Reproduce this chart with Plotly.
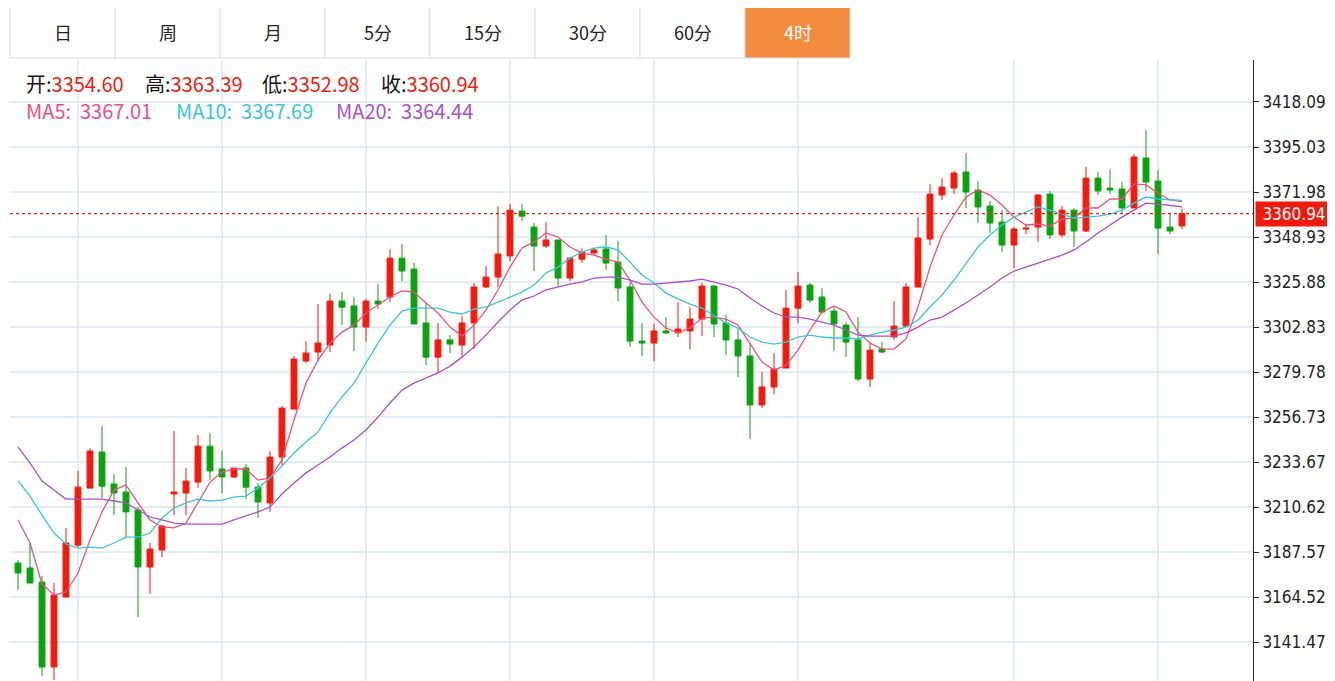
import plotly.graph_objects as go

opens = [3181.9,3179.4,3172.2,3128.7,3164.5,3191.1,3220.3,3238.8,3222.4,3218.3,
 3209.1,3179.9,3188.6,3217.3,3217.8,3223.4,3241.8,3230.1,3226.0,3230.6,
 3220.8,3212.7,3236.2,3260.8,3285.4,3290.0,3293.6,3316.1,3313.6,3302.8,
 3316.1,3318.2,3338.1,3332.5,3304.9,3287.4,3296.2,3293.6,3304.9,3323.3,
 3328.4,3339.2,3362.2,3354.0,3344.3,3347.4,3327.9,3337.6,3340.7,3342.8,
 3336.1,3323.3,3295.6,3294.6,3300.8,3299.8,3300.8,3306.9,3323.8,3304.9,
 3296.2,3288.0,3262.9,3272.1,3281.8,3312.5,3324.3,3318.2,3311.0,3303.8,
 3296.2,3276.2,3291.5,3297.7,3303.3,3323.3,3347.9,3370.4,3374.0,3382.2,
 3373.0,3364.8,3356.6,3344.8,3353.0,3354.0,3370.9,3350.0,3362.7,3352.0,
 3379.1,3374.0,3373.5,3363.8,3389.4,3377.6,3354.0,3354.60]
highs = [3183.5,3192.2,3175.3,3171.7,3199.9,3229.1,3240.8,3252.1,3227.5,3231.1,
 3210.6,3192.2,3201.4,3249.5,3230.6,3247.5,3248.5,3239.3,3230.6,3232.6,
 3222.9,3239.3,3262.3,3287.9,3295.6,3314.6,3319.8,3320.7,3318.2,3317.2,
 3324.9,3342.8,3345.4,3335.6,3315.1,3304.9,3298.7,3308.4,3325.4,3334.1,
 3364.7,3365.8,3365.8,3356.1,3356.6,3347.4,3338.6,3343.2,3343.2,3349.9,
 3346.9,3325.9,3304.9,3304.4,3307.9,3315.6,3313.0,3325.4,3324.3,3309.0,
 3302.3,3294.6,3279.7,3289.5,3321.8,3331.0,3325.4,3322.8,3313.0,3305.4,
 3307.9,3295.1,3295.1,3316.1,3325.4,3359.1,3376.0,3379.1,3382.7,3392.0,
 3377.6,3367.4,3362.7,3354.0,3355.6,3371.0,3372.5,3364.8,3363.7,3384.8,
 3382.2,3383.7,3377.1,3391.4,3403.9,3383.2,3361.2,3363.39]
lows = [3168.1,3171.7,3124.0,3122.0,3164.5,3190.1,3220.3,3215.2,3206.5,3195.2,
 3154.3,3166.1,3185.0,3206.5,3206.5,3220.3,3224.4,3217.8,3225.5,3214.7,
 3205.0,3208.1,3232.1,3260.8,3284.4,3285.4,3290.0,3303.8,3290.5,3295.1,
 3312.0,3315.6,3326.4,3304.4,3283.3,3279.3,3289.5,3287.4,3291.5,3322.8,
 3323.3,3336.6,3357.1,3331.5,3343.3,3323.8,3326.4,3335.6,3340.2,3332.0,
 3316.1,3292.6,3287.9,3285.4,3299.3,3297.7,3291.5,3298.2,3297.7,3288.5,
 3277.2,3245.4,3261.3,3268.5,3281.8,3304.9,3315.1,3309.5,3290.5,3287.4,
 3275.1,3272.1,3289.5,3296.2,3302.8,3323.3,3344.8,3367.9,3370.9,3363.8,
 3356.1,3351.0,3341.2,3333.0,3350.5,3346.4,3347.9,3348.9,3343.8,3351.5,
 3370.4,3370.9,3361.2,3363.8,3372.5,3340.2,3350.5,3352.98]
closes = [3176.8,3171.7,3128.7,3165.5,3192.2,3220.8,3239.3,3221.3,3217.8,3208.1,
 3179.9,3189.1,3200.9,3218.3,3223.9,3241.8,3229.1,3226.0,3230.6,3220.8,
 3213.2,3236.2,3261.3,3286.4,3289.5,3294.6,3316.1,3313.0,3302.8,3316.1,
 3314.6,3338.1,3331.5,3304.4,3287.4,3296.2,3294.1,3304.9,3323.3,3328.4,
 3340.2,3362.7,3359.6,3344.3,3347.4,3327.9,3338.1,3341.2,3342.3,3335.6,
 3322.8,3295.6,3294.6,3300.8,3299.8,3301.8,3306.9,3323.8,3304.4,3296.2,
 3288.0,3262.9,3272.1,3281.3,3312.5,3323.8,3316.6,3310.5,3304.4,3295.1,
 3276.2,3291.0,3290.0,3303.3,3323.3,3348.4,3370.9,3374.5,3381.7,3372.0,
 3364.3,3356.1,3344.8,3353.0,3353.5,3370.4,3350.0,3362.7,3352.0,3379.1,
 3372.5,3373.0,3363.8,3389.9,3377.1,3353.5,3352.0,3360.94]

ma5 = [3204.0,3192.2,3171.2,3165.5,3167.1,3176.8,3193.7,3208.1,3219.3,3221.9,
 3212.7,3204.0,3200.4,3199.9,3202.4,3213.2,3223.4,3228.5,3230.1,3230.1,
 3224.4,3225.5,3234.7,3255.2,3274.1,3285.9,3294.6,3300.2,3303.8,3310.0,
 3314.1,3318.2,3321.3,3320.7,3315.1,3310.0,3302.8,3298.2,3303.8,3311.5,
 3321.8,3333.5,3343.3,3346.4,3351.0,3348.9,3343.8,3340.7,3339.7,3337.6,
 3336.1,3326.9,3315.6,3307.9,3302.3,3299.8,3302.3,3307.4,3307.9,3306.9,
 3303.8,3294.6,3284.9,3280.8,3283.3,3291.0,3301.3,3310.5,3313.6,3310.5,
 3300.2,3294.6,3291.5,3291.5,3296.7,3313.1,3333.5,3350.0,3360.2,3369.4,
 3373.0,3370.4,3365.3,3359.1,3355.1,3355.6,3354.5,3358.1,3358.6,3363.8,
 3363.8,3368.4,3368.4,3376.1,3375.6,3371.5,3367.9,3367.01]
ma10 = [3224.0,3216.2,3206.5,3197.3,3191.7,3189.6,3190.1,3189.6,3192.2,3195.2,
 3195.2,3197.3,3205.0,3210.1,3212.7,3214.7,3213.7,3214.2,3215.7,3216.2,
 3220.3,3225.5,3231.6,3238.3,3243.9,3249.0,3258.8,3267.0,3274.1,3284.4,
 3294.6,3303.8,3311.0,3312.5,3312.5,3312.5,3310.5,3309.5,3312.0,3313.1,
 3315.6,3318.2,3320.7,3324.3,3330.5,3333.5,3338.1,3341.2,3343.2,3343.8,
 3342.3,3336.1,3329.5,3325.4,3320.2,3317.2,3314.6,3312.5,3308.9,3304.9,
 3302.3,3297.7,3295.1,3294.1,3295.1,3297.7,3298.7,3297.7,3297.2,3297.2,
 3296.7,3298.7,3300.2,3301.3,3302.8,3306.4,3313.1,3319.2,3326.9,3335.6,
 3343.8,3350.0,3355.1,3359.1,3361.7,3364.3,3362.7,3360.7,3358.6,3359.1,
 3359.6,3360.7,3362.7,3366.3,3369.4,3368.4,3367.9,3367.69]
ma20 = [3241.3,3233.2,3223.9,3219.3,3214.7,3214.7,3214.7,3214.7,3213.7,3212.7,
 3209.1,3205.5,3204.0,3202.4,3201.9,3201.9,3201.9,3201.9,3204.0,3206.0,
 3208.1,3210.6,3217.3,3222.9,3228.1,3232.1,3236.2,3240.8,3244.9,3250.1,
 3256.7,3263.9,3270.5,3274.1,3276.7,3279.3,3282.8,3287.4,3292.6,3298.7,
 3305.4,3311.5,3316.6,3318.7,3321.8,3323.3,3324.8,3325.9,3327.9,3328.4,
 3328.4,3326.9,3324.8,3324.8,3325.4,3325.9,3326.4,3327.4,3325.9,3324.3,
 3322.3,3317.7,3313.6,3310.0,3307.9,3307.9,3306.9,3305.4,3303.8,3301.3,
 3298.7,3298.2,3298.2,3298.2,3299.8,3302.8,3306.4,3307.9,3311.5,3315.1,
 3319.2,3323.3,3327.9,3331.5,3333.5,3335.6,3337.6,3339.7,3342.3,3346.4,
 3351.0,3355.1,3359.1,3362.7,3366.3,3365.8,3365.3,3364.44]

ytick_vals = [3418.09,3395.03,3371.98,3348.93,3325.88,3302.83,3279.78,3256.73,
              3233.67,3210.62,3187.57,3164.52,3141.47,3118.42]
vgrid_idx = [5,17,29,41,53,65,83,95]
tabs = ["日","周","月","5分","15分","30分","60分","4时"]
active_tab = "4时"

RED = "#f21a0d"
GREEN = "#0ba30b"
C5, C10, C20 = "#ee4f80", "#38c6da", "#ac4fc6"
OFF = 8                      # page body margin
W, H = 1335 - OFF, 681 - OFF
L, R, T = 10 - OFF, 1335 - 1253, 60 - OFF
pw, ph = W - L - R, H - T
xs = list(range(len(closes)))

fig = go.Figure()
fig.add_trace(go.Candlestick(
    x=xs, open=opens, high=highs, low=lows, close=closes,
    increasing=dict(line=dict(color=RED, width=1), fillcolor=RED),
    decreasing=dict(line=dict(color=GREEN, width=1), fillcolor=GREEN),
    whiskerwidth=0, hoverinfo="skip", showlegend=False))
for s, c in ((ma5, C5), (ma10, C10), (ma20, C20)):
    fig.add_trace(go.Scatter(x=xs, y=s, mode="lines", line=dict(color=c, width=1.3),
                             hoverinfo="skip", showlegend=False))

def px_x(p): return (p - OFF - L) / pw
def px_y(p): return (H - (p - OFF)) / ph

shapes = []
ann = []
tw = 105
for i, t in enumerate(tabs):
    x0 = 10 + i * tw
    active = t == active_tab
    shapes.append(dict(type="rect", xref="paper", yref="paper",
                       x0=px_x(x0), x1=px_x(x0 + tw), y0=px_y(58), y1=px_y(5),
                       line=dict(color="#dcdcdc", width=1),
                       fillcolor="#f38b3f" if active else "white", layer="above"))
    ann.append(dict(xref="paper", yref="paper", x=px_x(x0 + tw / 2), y=px_y(32),
                    text=t, showarrow=False, xanchor="center", yanchor="middle",
                    font=dict(size=18, color="white" if active else "#222",
                              family="Noto Sans CJK SC")))
last = closes[-1]
shapes.append(dict(type="line", xref="paper", yref="y", x0=0, x1=1, y0=last, y1=last,
                   line=dict(color=RED, width=1.2, dash="dot")))
ann.append(dict(xref="paper", yref="y", x=px_x(1255), y=last, xanchor="left",
                yanchor="middle", text=f"{last:.2f}", showarrow=False,
                bgcolor=RED, font=dict(color="white", size=17, family="DejaVu Sans Condensed"),
                borderpad=2, width=72))

FONT = "Noto Sans CJK SC"
def red(v): return f"<span style='color:{RED}'>{v:.2f}</span>"
hdr = [("开:", opens[-1], 24), ("高:", highs[-1], 143), ("低:", lows[-1], 260), ("收:", closes[-1], 379)]
for lab, v, xp in hdr:
    ann.append(dict(xref="paper", yref="paper", x=px_x(xp), y=px_y(83), xanchor="left",
                    yanchor="middle", showarrow=False, text=lab + red(v),
                    font=dict(size=20, color="#111", family=FONT)))
mas = [("MA5:", ma5[-1], C5, 24), ("MA10:", ma10[-1], C10, 174), ("MA20:", ma20[-1], C20, 334)]
for lab, v, col, xp in mas:
    ann.append(dict(xref="paper", yref="paper", x=px_x(xp), y=px_y(110), xanchor="left",
                    yanchor="middle", showarrow=False, text=f"{lab}  {v:.2f}",
                    font=dict(size=20, color=col, family=FONT)))

fig.update_layout(
    width=W, height=H, margin=dict(l=L, r=R, t=T, b=0, pad=0),
    paper_bgcolor="white", plot_bgcolor="white",
    shapes=shapes, annotations=ann,
    xaxis=dict(range=[-0.667, (1253 - 18) / 12], rangeslider=dict(visible=False),
               tickvals=vgrid_idx, showticklabels=False, showgrid=True,
               gridcolor="#e3ecf3", gridwidth=1.5, zeroline=False, ticks="",
               showline=False, fixedrange=True),
    yaxis=dict(side="right", range=[3121.5, 3439.6], tickvals=ytick_vals,
               ticktext=[f"{v:.2f}" for v in ytick_vals], showgrid=True,
               gridcolor="#e3ecf3", gridwidth=1.5, zeroline=False, showline=True,
               linecolor="#222", linewidth=1, ticks="outside", ticklen=5,
               tickcolor="#222", tickfont=dict(size=17, color="#222",
                                               family="DejaVu Sans Condensed, Liberation Sans"),
               fixedrange=True),
)
fig.write_html("out.html", config={"displayModeBar": False})
